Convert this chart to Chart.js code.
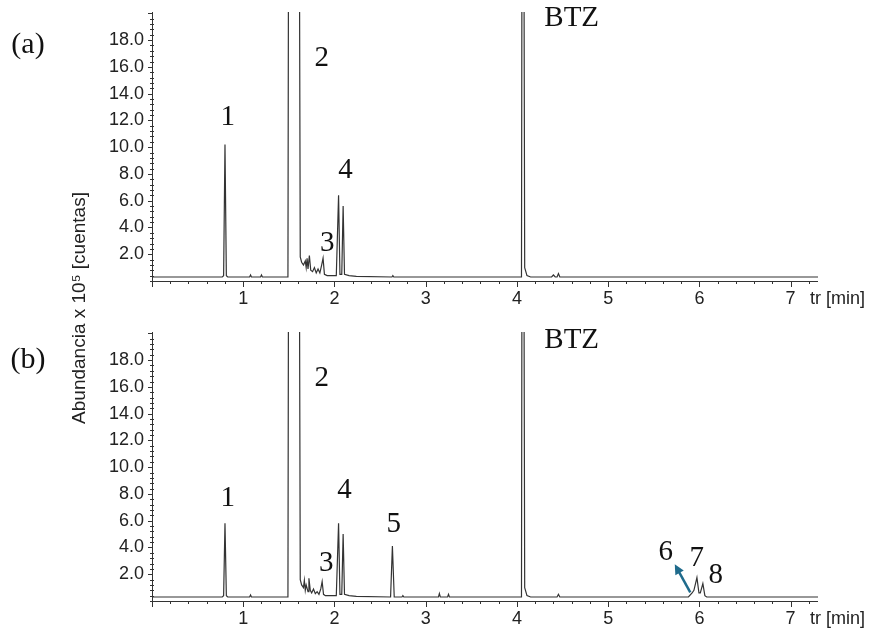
<!DOCTYPE html>
<html>
<head>
<meta charset="utf-8">
<script src="https://cdn.jsdelivr.net/npm/chart.js@4.4.1/dist/chart.umd.min.js"></script>
<style>
  body { margin: 0; background: #fff; }
  #wrap { position: relative; width: 871px; height: 628px; }
  canvas { position: absolute; left: 0; top: 0; }
</style>
</head>
<body>
<div id="wrap">
  <canvas id="chart-b" width="871" height="628"></canvas>
  <canvas id="chart-a" width="871" height="314"></canvas>
</div>
<script>
// retention time (min) / abundance (x 10^5 counts)
const timeA = [
  0, 0.77, 0.785, 0.80, 0.815, 0.83, 1.07, 1.08, 1.09, 1.19, 1.20, 1.21,
  1.49, 1.50, 1.61, 1.625, 1.64, 1.66, 1.68, 1.69, 1.70, 1.71, 1.725, 1.74,
  1.76, 1.78, 1.80, 1.82, 1.84, 1.86, 1.875, 1.89, 1.92, 2.02, 2.045, 2.06,
  2.08, 2.095, 2.11, 2.16, 2.24, 2.63, 2.64, 2.65, 4.05, 4.058, 4.072, 4.085,
  4.11, 4.15, 4.38, 4.40, 4.42, 4.44, 4.455, 4.47, 7.3
];
const abundA = [
  0.3, 0.3, 0.4, 10.2, 0.4, 0.3, 0.3, 0.45, 0.3, 0.3, 0.45, 0.3,
  0.3, 40, 40, 1.8, 1.4, 1.2, 1.5, 1.0, 1.7, 0.9, 1.9, 0.8,
  0.7, 1.0, 0.6, 0.9, 0.6, 1.2, 1.7, 0.5, 0.4, 0.4, 6.4, 0.5,
  0.5, 5.6, 0.5, 0.4, 0.35, 0.3, 0.4, 0.3, 0.3, 40, 40, 1.0,
  0.4, 0.3, 0.3, 0.45, 0.3, 0.3, 0.55, 0.3, 0.3
];
const timeB = [
  0, 0.77, 0.785, 0.80, 0.815, 0.83, 1.07, 1.08, 1.09, 1.49, 1.50, 1.61,
  1.625, 1.64, 1.66, 1.67, 1.68, 1.69, 1.71, 1.72, 1.735, 1.75, 1.77, 1.79,
  1.81, 1.83, 1.85, 1.865, 1.88, 1.90, 2.02, 2.045, 2.06, 2.08, 2.095, 2.11,
  2.16, 2.24, 2.615, 2.635, 2.655, 2.74, 2.75, 2.76, 3.14, 3.15, 3.16, 3.24,
  3.25, 3.26, 4.05, 4.058, 4.072, 4.085, 4.11, 4.15, 4.44, 4.455, 4.47, 5.88,
  5.92, 5.94, 5.973, 5.995, 6.01, 6.038, 6.06, 6.08, 7.3
];
const abundB = [
  0.3, 0.3, 0.4, 5.8, 0.4, 0.3, 0.3, 0.45, 0.3, 0.3, 40, 40,
  1.6, 1.2, 1.0, 1.55, 0.8, 1.2, 0.7, 1.7, 0.8, 0.6, 0.9, 0.55,
  0.7, 0.5, 0.9, 1.45, 0.5, 0.4, 0.4, 5.8, 0.5, 0.5, 5.0, 0.5,
  0.4, 0.35, 0.3, 4.1, 0.3, 0.3, 0.4, 0.3, 0.3, 0.55, 0.3, 0.3,
  0.5, 0.3, 0.3, 40, 40, 1.0, 0.4, 0.3, 0.3, 0.5, 0.3, 0.3,
  0.6, 0.8, 1.75, 0.6, 0.6, 1.3, 0.4, 0.3, 0.3
];

const xTicks = [1, 2, 3, 4, 5, 6, 7];
const yTicks = [2, 4, 6, 8, 10, 12, 14, 16, 18];
const X_MAX = 7.3;
const Y_MAX = 20.1;

// peak names, placed in (time, abundance) units
const peaksA = [
  { text: "1", x: 0.83, y: 12.2 },
  { text: "2", x: 1.86, y: 16.6 },
  { text: "3", x: 1.92, y: 2.8 },
  { text: "4", x: 2.12, y: 8.3 },
  { text: "BTZ", x: 4.6, y: 19.6 }
];
const peaksB = [
  { text: "1", x: 0.83, y: 7.7 },
  { text: "2", x: 1.86, y: 16.6 },
  { text: "3", x: 1.91, y: 2.8 },
  { text: "4", x: 2.11, y: 8.3 },
  { text: "5", x: 2.65, y: 5.75 },
  { text: "BTZ", x: 4.6, y: 19.5 },
  { text: "6", x: 5.63, y: 3.65 },
  { text: "7", x: 5.97, y: 3.15 },
  { text: "8", x: 6.18, y: 1.9 }
];

const SANS = '"Liberation Sans", Arial, sans-serif';
const SERIF = '"Liberation Serif", "Times New Roman", serif';

function toPoints(times, values) {
  return times.map((t, i) => ({ x: t, y: values[i] }));
}

// draws the axes, ticks, labels and annotations on top of the trace
function decorations(panel) {
  return {
    id: "decor",
    afterDraw(chart) {
      const { ctx, chartArea: a, scales: { x, y } } = chart;
      ctx.save();
      ctx.strokeStyle = "#333";
      ctx.lineWidth = 1;

      ctx.beginPath();
      ctx.moveTo(a.left + 0.5, a.top);
      ctx.lineTo(a.left + 0.5, a.bottom);
      ctx.moveTo(a.left - 2, a.bottom + 0.5);
      ctx.lineTo(a.right, a.bottom + 0.5);

      // x ticks: minor every 0.2 min, major every minute
      for (let i = 0; i * 0.2 <= X_MAX + 1e-9; i++) {
        const px = Math.round(x.getPixelForValue(i * 0.2)) + 0.5;
        ctx.moveTo(px, a.bottom);
        ctx.lineTo(px, a.bottom + (i % 5 === 0 ? 6 : 3));
      }
      // y ticks: minor every 0.4, major every 2.0
      for (let i = 1; i * 0.4 <= Y_MAX; i++) {
        const py = Math.round(y.getPixelForValue(i * 0.4)) + 0.5;
        const major = i % 5 === 0;
        ctx.moveTo(a.left - (major ? 4 : 2), py);
        ctx.lineTo(a.left + (major ? 1 : 2), py);
      }
      ctx.stroke();

      ctx.fillStyle = "#222";
      ctx.font = "18px " + SANS;
      ctx.textBaseline = "middle";
      ctx.textAlign = "right";
      yTicks.forEach(v => ctx.fillText(v.toFixed(1), a.left - 8, y.getPixelForValue(v)));
      ctx.textAlign = "center";
      xTicks.forEach(v => ctx.fillText(String(v), x.getPixelForValue(v), a.bottom + 18));
      ctx.textAlign = "left";
      ctx.fillText("tr [min]", a.right - 8, a.bottom + 18);

      // panel letter and peak names
      ctx.fillStyle = "#111";
      ctx.font = "30px " + SERIF;
      ctx.textAlign = "center";
      ctx.fillText(panel.letter, 28, y.getPixelForValue(panel.letterY));
      ctx.font = "29px " + SERIF;
      panel.peaks.forEach(p => ctx.fillText(p.text, x.getPixelForValue(p.x), y.getPixelForValue(p.y)));

      if (panel.yTitle) {
        ctx.save();
        ctx.translate(80, 308);
        ctx.rotate(-Math.PI / 2);
        ctx.font = "19px " + SANS;
        ctx.fillStyle = "#222";
        ctx.fillText("Abundancia x 10\u2075 [cuentas]", 0, 0);
        ctx.restore();
      }

      if (panel.arrow) {
        const x0 = x.getPixelForValue(panel.arrow.from[0]);
        const y0 = y.getPixelForValue(panel.arrow.from[1]);
        const x1 = x.getPixelForValue(panel.arrow.to[0]);
        const y1 = y.getPixelForValue(panel.arrow.to[1]);
        const ang = Math.atan2(y1 - y0, x1 - x0);
        ctx.strokeStyle = "#1f6b8c";
        ctx.fillStyle = "#1f6b8c";
        ctx.lineWidth = 2.5;
        ctx.beginPath();
        ctx.moveTo(x0, y0);
        ctx.lineTo(x1 - 7 * Math.cos(ang), y1 - 7 * Math.sin(ang));
        ctx.stroke();
        ctx.beginPath();
        ctx.moveTo(x1, y1);
        ctx.lineTo(x1 - 11 * Math.cos(ang - 0.45), y1 - 11 * Math.sin(ang - 0.45));
        ctx.lineTo(x1 - 11 * Math.cos(ang + 0.45), y1 - 11 * Math.sin(ang + 0.45));
        ctx.closePath();
        ctx.fill();
      }
      ctx.restore();
    }
  };
}

function makeChart(id, times, values, padding, panel) {
  const ctx = document.getElementById(id).getContext("2d");
  return new Chart(ctx, {
    type: "line",
    data: {
      datasets: [{
        data: toPoints(times, values),
        borderColor: "#333",
        borderWidth: 1.2,
        pointRadius: 0,
        fill: false,
        tension: 0
      }]
    },
    options: {
      responsive: false,
      animation: false,
      devicePixelRatio: 1,
      layout: { padding },
      plugins: { legend: { display: false }, tooltip: { enabled: false } },
      scales: {
        x: { type: "linear", min: 0, max: X_MAX, display: false },
        y: { min: 0, max: Y_MAX, display: false }
      }
    },
    plugins: [decorations(panel)]
  });
}

makeChart("chart-a", timeA, abundA,
  { left: 152, right: 53, top: 12, bottom: 33 },
  { letter: "(a)", letterY: 17.6, peaks: peaksA });

makeChart("chart-b", timeB, abundB,
  { left: 152, right: 53, top: 332, bottom: 27 },
  { letter: "(b)", letterY: 18.0, peaks: peaksB, yTitle: true,
    arrow: { from: [5.9, 0.65], to: [5.73, 2.75] } });
</script>
</body>
</html>
